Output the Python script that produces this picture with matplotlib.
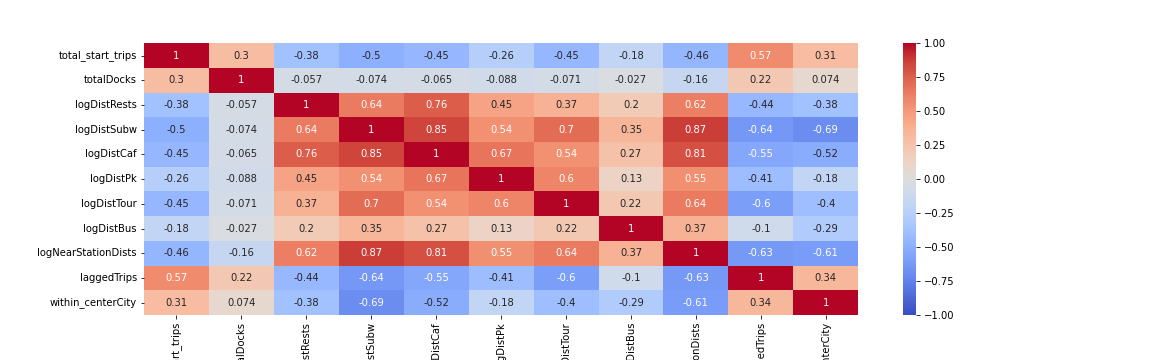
import matplotlib
matplotlib.use("Agg")
import matplotlib.pyplot as plt
import numpy as np
import pandas as pd
import seaborn as sns

FEATURES = [
    "total_start_trips", "totalDocks", "logDistRests", "logDistSubw",
    "logDistCaf", "logDistPk", "logDistTour", "logDistBus",
    "logNearStationDists", "laggedTrips", "within_centerCity",
]

# correlation matrix
total_start_trips = [1, 0.3, -0.38, -0.5, -0.45, -0.26, -0.45, -0.18, -0.46, 0.57, 0.31]
totalDocks = [0.3, 1, -0.057, -0.074, -0.065, -0.088, -0.071, -0.027, -0.16, 0.22, 0.074]
logDistRests = [-0.38, -0.057, 1, 0.64, 0.76, 0.45, 0.37, 0.2, 0.62, -0.44, -0.38]
logDistSubw = [-0.5, -0.074, 0.64, 1, 0.85, 0.54, 0.7, 0.35, 0.87, -0.64, -0.69]
logDistCaf = [-0.45, -0.065, 0.76, 0.85, 1, 0.67, 0.54, 0.27, 0.81, -0.55, -0.52]
logDistPk = [-0.26, -0.088, 0.45, 0.54, 0.67, 1, 0.6, 0.13, 0.55, -0.41, -0.18]
logDistTour = [-0.45, -0.071, 0.37, 0.7, 0.54, 0.6, 1, 0.22, 0.64, -0.6, -0.4]
logDistBus = [-0.18, -0.027, 0.2, 0.35, 0.27, 0.13, 0.22, 1, 0.37, -0.1, -0.29]
logNearStationDists = [-0.46, -0.16, 0.62, 0.87, 0.81, 0.55, 0.64, 0.37, 1, -0.63, -0.61]
laggedTrips = [0.57, 0.22, -0.44, -0.64, -0.55, -0.41, -0.6, -0.1, -0.63, 1, 0.34]
within_centerCity = [0.31, 0.074, -0.38, -0.69, -0.52, -0.18, -0.4, -0.29, -0.61, 0.34, 1]


def main():
    rows = [total_start_trips, totalDocks, logDistRests, logDistSubw, logDistCaf,
            logDistPk, logDistTour, logDistBus, logNearStationDists, laggedTrips,
            within_centerCity]
    corr = pd.DataFrame(np.array(rows), index=FEATURES, columns=FEATURES)

    fig = plt.figure(figsize=(16, 5), dpi=72)
    ax = fig.add_subplot(111)
    sns.heatmap(corr, annot=True, cmap="coolwarm", vmin=-1, vmax=1, ax=ax,
                annot_kws={"fontsize": 10})
    fig.subplots_adjust(left=0.125, right=0.9, top=0.88, bottom=0.125)
    fig.savefig("out.png", dpi=72)


if __name__ == '__main__':
    main()
